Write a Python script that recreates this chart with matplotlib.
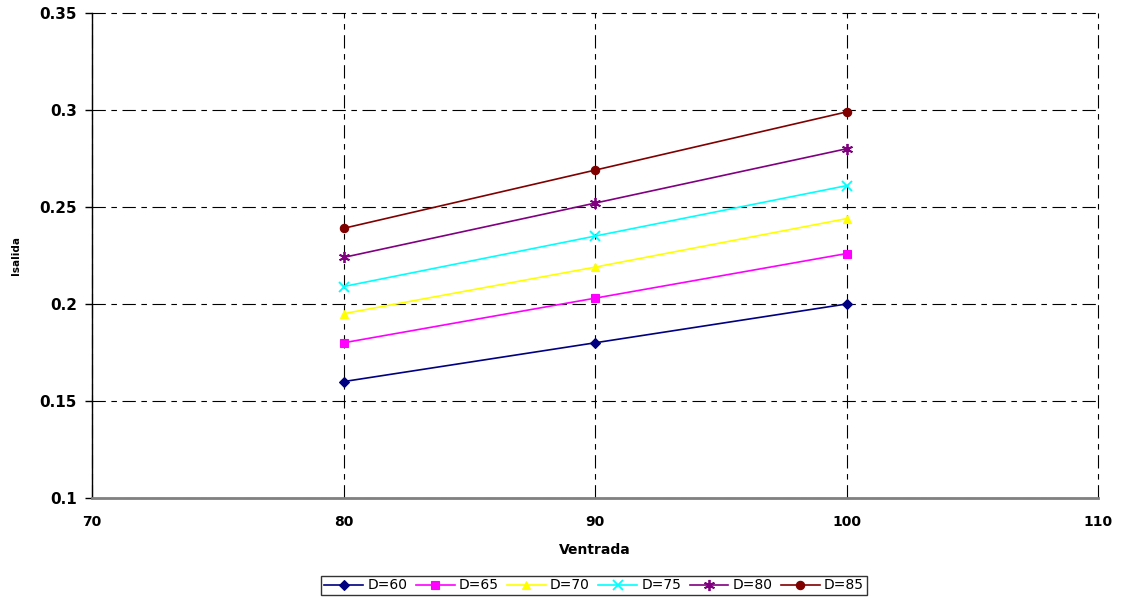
import matplotlib
matplotlib.use("Agg")
import matplotlib.pyplot as plt

ventrada = [80, 90, 100]
labels = ["D=60", "D=65", "D=70", "D=75", "D=80", "D=85"]
d60 = [0.160, 0.180, 0.200]
d65 = [0.180, 0.203, 0.226]
d70 = [0.195, 0.219, 0.244]
d75 = [0.209, 0.235, 0.261]
d80 = [0.224, 0.252, 0.280]
d85 = [0.239, 0.269, 0.299]
series = [d60, d65, d70, d75, d80, d85]

colors = ["#000080", "#FF00FF", "#FFFF00", "#00FFFF", "#800080", "#800000"]
markers = ["D", "s", "^", "x", (6, 2, 0), "o"]
msizes = [5, 6, 6, 7, 8, 6]

xticks = [70, 80, 90, 100, 110]
yticks = [0.1, 0.15, 0.2, 0.25, 0.3, 0.35]
ytick_labels = ["0.1", "0.15", "0.2", "0.25", "0.3", "0.35"]

fig = plt.figure(figsize=(11.21, 5.98), dpi=100)
ax = fig.add_axes([0.0821, 0.1672, 0.8974, 0.8111])

for vals, lab, c, m, ms in zip(series, labels, colors, markers, msizes):
    ax.plot(ventrada, vals, color=c, marker=m, markersize=ms, linewidth=1.2,
            markeredgewidth=1.3 if m in ("x", (6, 2, 0)) else 0.8,
            markeredgecolor=c, label=lab, zorder=3)

ax.set_xlim(70, 110)
ax.set_ylim(0.1, 0.35)
ax.set_xticks(xticks)
ax.set_yticks(yticks)
ax.set_yticklabels(ytick_labels)

ax.grid(True, color="black", linewidth=0.8, dashes=(12, 5, 5, 5))
ax.set_axisbelow(True)
for gl in ax.get_xgridlines() + ax.get_ygridlines():
    gl.set_clip_on(False)

ax.spines["top"].set_visible(False)
ax.spines["right"].set_visible(False)
ax.spines["left"].set_color("black")
ax.spines["left"].set_linewidth(1.0)
ax.spines["bottom"].set_color("#808080")
ax.spines["bottom"].set_linewidth(2.0)

ax.tick_params(axis="y", length=5, width=1, direction="out", pad=6)
ax.tick_params(axis="x", length=0, pad=12)
for t in ax.get_xticklabels():
    t.set_fontweight("bold")
    t.set_fontsize(10)
for t in ax.get_yticklabels():
    t.set_fontweight("bold")
    t.set_fontsize(11)

ax.set_xlabel("Ventrada", fontsize=10, fontweight="bold", labelpad=10)
ax.set_ylabel("Isalida", fontsize=7.5, fontweight="bold", labelpad=13)

leg = fig.legend(loc="upper center", bbox_to_anchor=(0.53, 0.049), ncol=6,
                 frameon=True, fancybox=False, edgecolor="black",
                 fontsize=10, handlelength=2.8, handletextpad=0.3,
                 columnspacing=0.6, borderpad=0.2)
leg.get_frame().set_linewidth(1.0)

plt.savefig("out.png", dpi=100)
